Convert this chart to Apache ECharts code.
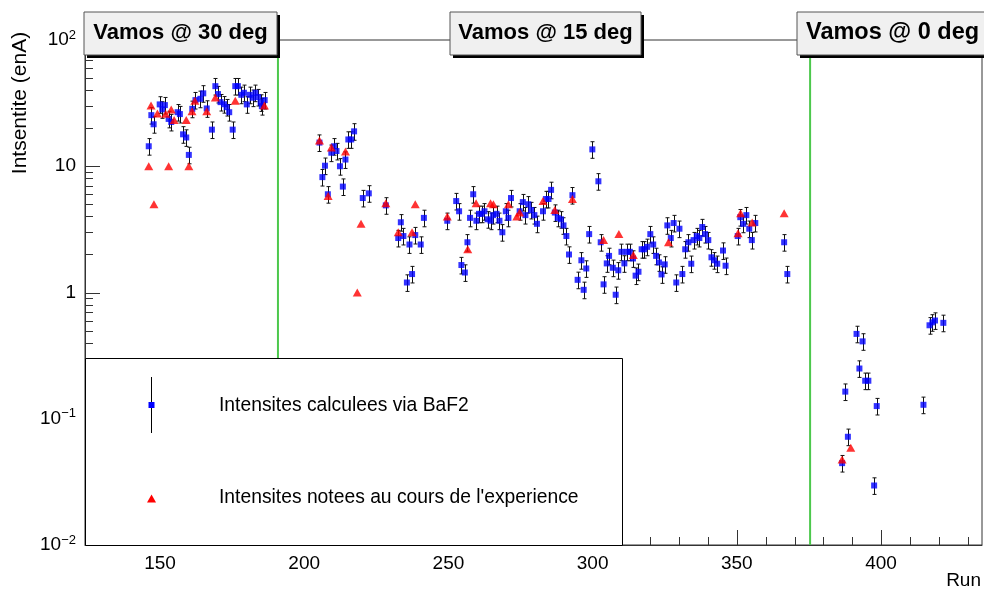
<!DOCTYPE html>
<html><head><meta charset="utf-8">
<script src="https://cdn.jsdelivr.net/npm/echarts@6/dist/echarts.min.js"></script>
<style>html,body{margin:0;padding:0;background:#fff}#c{width:984px;height:591px}</style>
</head><body><div id="c"></div>
<script>
// ---- data ----
const blueRuns = [146.1,147.0,147.8,149.9,150.8,151.7,153.0,153.9,156.1,156.9,158.0,159.1,160.0,161.2,162.3,164.0,165.0,166.2,168.0,169.2,170.1,171.0,172.2,173.1,174.0,175.2,176.1,177.0,178.2,179.1,180.1,181.1,182.1,183.1,184.0,184.9,185.3,186.3,
205.3,206.3,207.2,208.2,209.4,210.3,211.2,212.4,213.4,214.3,215.3,216.3,217.3,220.3,222.4,228.3,232.6,233.5,234.4,235.6,236.5,237.4,238.5,240.4,241.5,249.6,
252.7,253.7,254.5,255.7,256.6,257.5,258.6,259.7,260.6,261.5,262.5,263.6,264.6,265.5,266.7,267.7,268.7,269.9,270.8,271.7,274.7,275.8,276.7,277.7,278.7,279.8,280.7,282.8,283.8,284.7,285.6,286.9,287.9,289.0,289.9,290.9,291.8,293.0,294.8,296.1,296.9,297.8,298.8,299.9,302.0,302.8,303.8,304.9,305.7,
307.0,308.0,308.9,310.0,311.0,311.9,312.9,314.0,314.9,315.9,317.0,317.9,318.9,320.0,321.0,322.0,323.0,323.9,325.0,325.9,327.1,328.1,329.0,330.1,331.1,332.1,333.2,334.2,335.0,336.1,337.0,338.0,339.0,340.1,341.2,342.1,343.2,345.2,346.1,350.3,351.2,352.2,353.3,354.3,355.2,356.4,366.4,367.5,
386.5,387.6,388.5,391.5,392.5,393.6,394.5,395.6,397.6,398.5,414.7,416.8,417.8,418.7,421.6];
const blueVals = [14.4,25.4,21.5,30.9,28.2,30.5,23.7,22.4,26.8,25.9,17.9,16.9,12.3,28.5,33.4,34.2,37.8,28.7,19.5,43.1,37.3,32.2,31.0,29.4,26.8,19.5,43.1,43.1,36.8,38.2,30.9,36.8,34.9,38.2,35.3,32.0,29.9,33.4,
15.4,8.2,10.1,6.0,12.8,14.4,13.2,10.0,6.9,11.3,16.3,16.3,18.9,5.6,6.1,4.9,2.7,3.6,2.8,1.2,2.4,1.4,2.85,2.4,3.9,3.7,
5.3,4.4,1.65,1.44,2.5,3.9,6.0,3.7,4.2,4.2,4.4,3.8,3.7,4.1,4.2,3.7,3.0,4.4,3.9,5.6,4.4,5.2,4.1,5.0,4.5,4.1,3.5,4.4,5.5,5.5,6.5,4.3,3.9,3.8,3.4,2.8,2.0,5.9,1.26,1.8,1.05,1.55,2.9,13.6,7.6,2.5,1.16,1.7,1.95,
1.57,0.96,1.5,2.1,1.7,2.1,2.1,1.86,1.36,1.46,2.2,2.2,2.3,2.9,2.4,1.95,1.73,1.39,1.67,3.4,2.7,3.55,1.2,3.2,1.4,2.2,2.5,1.69,2.6,2.8,2.7,3.3,2.9,2.6,1.9,1.8,1.69,2.15,1.63,2.8,3.95,3.5,4.1,3.2,2.6,3.55,2.5,1.4,
0.0445,0.164,0.072,0.47,0.25,0.41,0.20,0.20,0.0296,0.126,0.129,0.55,0.58,0.60,0.575];
const REL_ERR = 0.15; // relative error bar half-length

const redRuns = [146.1,146.9,147.9,149.1,152.0,153.0,153.9,154.9,159.1,160.0,161.1,162.1,166.2,169.2,176.1,186.2,205.3,208.3,209.4,214.3,218.4,219.7,228.3,232.6,237.4,238.5,249.6,256.7,259.6,264.6,265.6,270.8,273.7,274.7,282.8,286.9,293.0,303.8,309.1,314.1,326.3,350.4,351.3,355.3,366.4,386.5,389.5];
const redVals = [10,30.3,5.0,26.2,26,10,28.2,23.2,23.2,10,27.3,33,27.3,35.1,33,30.3,16,5.8,14.1,13.1,1.0,3.5,5.1,3.0,3.0,5.0,4.0,2.2,5.1,5.1,5.0,5.0,4.0,4.3,5.3,4.5,5.5,2.6,2.9,1.98,2.5,2.95,4.25,3.58,4.25,0.0475,0.059];

const separatorRuns = [190.9, 375.4];
const periodLabels = ['Vamos @ 30 deg', 'Vamos @ 15 deg', 'Vamos @ 0 deg'];
const xTickLabels = [150, 200, 250, 300, 350, 400];
const xMinorTicks = [130,140,160,170,180,190,210,220,230,240,260,270,280,290,310,320,330,340,360,370,380,390,410,420,430];
const yDecades = [0.01, 0.1, 1, 10, 100];
const yMinorFactors = [2,3,4,5,6,7,8,9];
const legendNames = ['Intensites calculees via BaF2', "Intensites notees au cours de l'experience"];
const xTitle = 'Run';
const yTitle = 'Intsentite (enA)';

// ---- build ----
const FONT = 'Liberation Sans, Arial, Helvetica, sans-serif';
const X_MIN = 124, X_MAX = 435;

const tickData = [];
xTickLabels.forEach(v => tickData.push([v, 'x', 15]));
xMinorTicks.forEach(v => tickData.push([v, 'x', 8]));
yDecades.forEach(d => {
  tickData.push([d, 'y', 15]);
  if (d < 100) yMinorFactors.forEach(f => tickData.push([d * f, 'y', 8]));
});

const chart = echarts.init(document.getElementById('c'), null, {renderer: 'canvas'});

function supLabel(v) {
  const e = Math.round(Math.log10(v));
  if (e === 0) return '1';
  if (e === 1) return '10';
  return '10{sup|' + (e < 0 ? '\u2212' + (-e) : e) + '}';
}

const boxes = [
  {x: 84, w: 193, tx: 180.5, align: 'center', fs: 22},
  {x: 450, w: 191, tx: 545.5, align: 'center', fs: 22},
  {x: 797, w: 210, tx: 806, align: 'left', fs: 23.5}
];
const graphic = [];
boxes.forEach((b, i) => {
  graphic.push({type: 'rect', z: 110, shape: {x: b.x + 3, y: 15, width: b.w, height: 43}, style: {fill: '#000'}});
  graphic.push({type: 'rect', z: 111, shape: {x: b.x, y: 12, width: b.w, height: 43}, style: {fill: '#f0f0f0', stroke: '#555', lineWidth: 1}});
  graphic.push({type: 'text', z: 112, x: b.tx, y: 33,
    style: {text: periodLabels[i], fill: '#000', font: 'bold ' + b.fs + 'px ' + FONT, textAlign: b.align, textVerticalAlign: 'middle'}});
});
// legend box
graphic.push({type: 'rect', z: 100, shape: {x: 85.5, y: 358.5, width: 537, height: 187}, style: {fill: '#fff', stroke: '#000', lineWidth: 1}});
graphic.push({type: 'line', z: 101, shape: {x1: 151.5, y1: 377, x2: 151.5, y2: 433}, style: {stroke: '#000', lineWidth: 1}});
graphic.push({type: 'rect', z: 102, shape: {x: 148.5, y: 402, width: 6, height: 6}, style: {fill: '#0000ff'}});
graphic.push({type: 'polygon', z: 102, shape: {points: [[151.5, 494.5], [156, 502.5], [147, 502.5]]}, style: {fill: '#ff0000'}});
graphic.push({type: 'text', z: 102, x: 219, y: 406, style: {text: legendNames[0], fill: '#000', font: '19.3px ' + FONT, textVerticalAlign: 'middle'}});
graphic.push({type: 'text', z: 102, x: 219, y: 498, style: {text: legendNames[1], fill: '#000', font: '19.3px ' + FONT, textVerticalAlign: 'middle'}});
// axis titles
graphic.push({type: 'text', z: 102, x: 981, y: 581, style: {text: xTitle, fill: '#000', font: '19px ' + FONT, textAlign: 'right', textVerticalAlign: 'middle'}});
graphic.push({type: 'text', z: 102, x: 20, y: 103, rotation: Math.PI / 2, style: {text: yTitle, fill: '#000', font: '21px ' + FONT, textAlign: 'center', textVerticalAlign: 'middle'}});

const option = {
  animation: false,
  backgroundColor: '#fff',
  grid: {left: 85, top: 40, width: 897, height: 505, show: true, borderColor: '#333', borderWidth: 1, backgroundColor: 'transparent'},
  xAxis: {
    type: 'value', min: X_MIN, max: X_MAX,
    axisLine: {show: true, onZero: false, lineStyle: {color: '#333', width: 1}},
    axisTick: {show: false},
    splitLine: {show: false},
    axisLabel: {customValues: xTickLabels, color: '#000', fontSize: 19, fontFamily: FONT, margin: 9}
  },
  yAxis: {
    type: 'log', logBase: 10, min: 0.01, max: 100,
    axisLine: {show: true, lineStyle: {color: '#333', width: 1}},
    axisTick: {show: false},
    splitLine: {show: false},
    minorTick: {show: false},
    axisLabel: {
      color: '#000', fontSize: 19, fontFamily: FONT, margin: 9,
      formatter: supLabel,
      rich: {sup: {fontSize: 13, fontFamily: FONT, color: '#000', padding: [0, 0, 10, 0]}}
    }
  },
  graphic: graphic,
  series: [
    { // axis ticks (inside, ROOT style)
      type: 'custom', silent: true, z: 1,
      data: tickData.map(t => t[1] === 'x' ? [t[0], 0.01, t[2]] : [X_MIN, t[0], t[2]]),
      renderItem: (params, api) => {
        const i = params.dataIndex;
        const kind = tickData[i][1];
        const len = tickData[i][2];
        const cs = params.coordSys;
        if (kind === 'x') {
          const p = api.coord([api.value(0), 0.01]);
          const x = Math.round(p[0]) + 0.5;
          return {type: 'line', shape: {x1: x, y1: cs.y + cs.height, x2: x, y2: cs.y + cs.height - len}, style: {stroke: '#333', lineWidth: 1}};
        } else {
          const p = api.coord([X_MIN, api.value(1)]);
          const y = Math.round(p[1]) + 0.5;
          return {type: 'line', shape: {x1: cs.x, y1: y, x2: cs.x + len, y2: y}, style: {stroke: '#333', lineWidth: 1}};
        }
      }
    },
    { // separators
      type: 'custom', silent: true, z: 1,
      data: separatorRuns.map(r => [r, 100]),
      renderItem: (params, api) => {
        const top = api.coord([api.value(0), 100]);
        const bot = api.coord([api.value(0), 0.01]);
        return {type: 'line', shape: {x1: top[0], y1: top[1], x2: bot[0], y2: bot[1]}, style: {stroke: '#4cc84c', lineWidth: 2}};
      }
    },
    { // error bars
      type: 'custom', silent: true, z: 2,
      data: blueRuns.map((r, i) => [r, blueVals[i] * (1 - REL_ERR), blueVals[i] * (1 + REL_ERR)]),
      encode: {x: 0, y: [1, 2]},
      renderItem: (params, api) => {
        const x0 = api.value(0);
        const hi = api.coord([x0, api.value(2)]);
        const lo = api.coord([x0, api.value(1)]);
        const cx = Math.round(hi[0]) + 0.5;
        const st = {stroke: '#111', lineWidth: 1};
        return {type: 'group', children: [
          {type: 'line', shape: {x1: cx, y1: hi[1], x2: cx, y2: lo[1]}, style: st},
          {type: 'line', shape: {x1: cx - 2, y1: hi[1], x2: cx + 2, y2: hi[1]}, style: st},
          {type: 'line', shape: {x1: cx - 2, y1: lo[1], x2: cx + 2, y2: lo[1]}, style: st}
        ]};
      }
    },
    {
      name: legendNames[0], type: 'scatter', z: 3, symbol: 'rect', symbolSize: 6,
      itemStyle: {color: '#0000ff'},
      data: blueRuns.map((r, i) => [r, blueVals[i]])
    },
    {
      name: legendNames[1], type: 'scatter', z: 4, symbol: 'triangle', symbolSize: [9, 8],
      itemStyle: {color: '#ff0000'},
      data: redRuns.map((r, i) => [r, redVals[i]])
    }
  ]
};
chart.setOption(option);
</script></body></html>
